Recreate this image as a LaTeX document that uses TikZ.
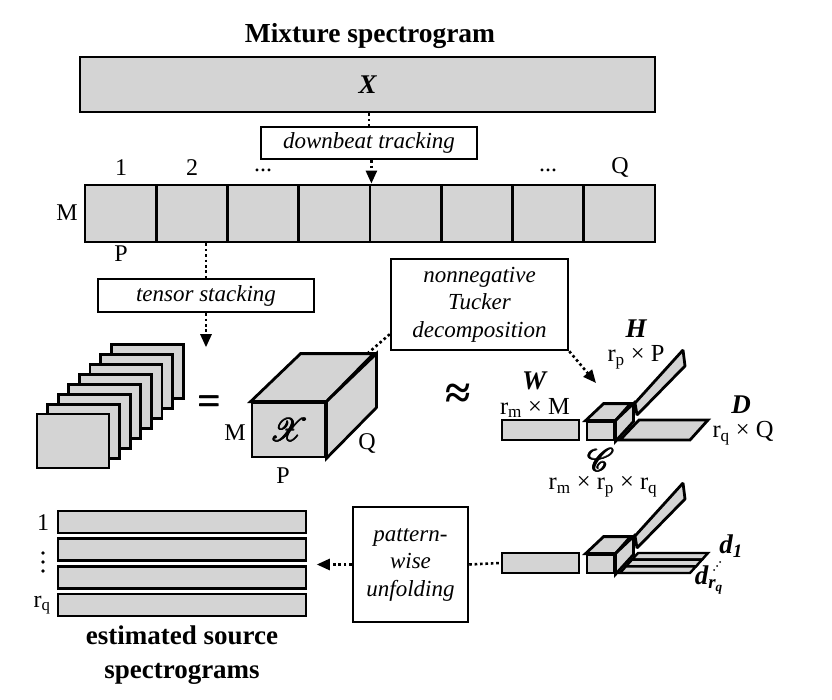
\documentclass[tikz,border=0pt]{standalone}
\usepackage{fontspec}
\setmainfont{Liberation Serif}
\usepackage{mathrsfs}
\usetikzlibrary{arrows.meta,calc}
\definecolor{boxgray}{HTML}{D4D4D4}
\begin{document}
\begin{tikzpicture}[x=1pt,y=-1pt,
  gbox/.style={draw,line width=2.8pt,fill=boxgray,inner sep=0pt},
  wbox/.style={draw,line width=2.5pt,fill=white,inner sep=2pt,align=center,font=\itshape\fontsize{23}{27.5}\selectfont},
  dotline/.style={line width=2.6pt,dash pattern=on 2.6pt off 2.8pt},
  darrow/.style={dotline,-{Triangle[length=13pt,width=11pt]}},
  lab/.style={font=\fontsize{24}{26}\selectfont,inner sep=0pt},
  dimlab/.style={font=\fontsize{24.5}{26}\selectfont,inner sep=0pt},
  bi/.style={font=\bfseries\itshape\fontsize{27}{28}\selectfont,inner sep=0pt}]
\useasboundingbox (0,0) rectangle (832,700);

% title and mixture spectrogram
\node[font=\bfseries\fontsize{27.5}{30}\selectfont] (title) at (370,36) {Mixture spectrogram};
\node[gbox,minimum width=575pt,minimum height=55pt] (top) at (367.5,84.5) {};
\node[bi] (Xl) at (top.center) {X};
\node[wbox,minimum width=216pt,minimum height=32pt] (db) at (369,143) {downbeat tracking};
\draw[dotline] (db.north |- top.south) -- (db.north);

% segmented row
\foreach \i in {1,...,8}
  \node[gbox,minimum width=71.25pt,minimum height=57pt] (c\i) at ({85+71.25*(\i-0.5)},213.5) {};
\draw[darrow] (db.south -| c4.north east) -- (c4.north east);
\node[lab] (n1) at (121,168) {1};
\node[lab] (n2) at (192,168) {2};
\node[lab] (n3) at (263,170) {...};
\node[lab] (n4) at (548,170) {...};
\node[lab] (nQ) at (620,168) {Q};
\node[lab] (nM) at (67,213) {M};
\node[lab] (nP) at (121,254) {P};

% tensor stacking
\node[wbox,minimum width=216pt,minimum height=33pt] (ts) at (206,295.5) {tensor stacking};
\draw[dotline] (ts.north |- c2.south) -- (ts.north);
\coordinate (tsend) at ($(ts.south)+(0,34)$);
\draw[darrow] (ts.south) -- (tsend);

% stack of slices
\foreach \i in {7,6,...,0}
  \node[gbox,minimum width=72pt,minimum height=54pt] (s\i) at ({73+10.6*\i},{441-9.9*\i}) {};
\foreach \ox in {0,0.7}
  \node[font=\bfseries\fontsize{40}{40}\selectfont] at ({209+\ox},405) {=};

% cube
\node[gbox,minimum width=73pt,minimum height=54pt] (cube) at (288.5,430) {};
\draw[gbox] (cube.north west) -- ++(50,-48) -- ++(73,0) -- (cube.north east) -- cycle;
\draw[gbox] (cube.north east) -- ++(50,-48) -- ++(0,54) -- (cube.south east) -- cycle;
\foreach \ox/\oy in {0/0,0.5/0,1/0,0.5/0.5,0.5/-0.5}
  \node[scale=3.2] at ($(cube.center)+(\ox,\oy)$) {$\mathscr{X}$};
\node[lab] (cM) at (235,433) {M};
\node[lab] (cP) at (283,476) {P};
\node[lab] (cQ) at (367,443) {Q};
\coordinate (cubetr) at ($(cube.north east)+(50,-48)$);

% Tucker
\node[wbox,minimum width=177pt,minimum height=91pt] (tk) at (479.5,304.5) {nonnegative\\Tucker\\decomposition};
\draw[dotline] ($(cubetr)+(-9,0)$) -- ($(tk.south west)+(0,-17)$);
\coordinate (coreend) at (596,383);
\draw[darrow] (tk.south east) -- (coreend);
\node[font=\bfseries\fontsize{46}{46}\selectfont] (approx) at (458,396) {≈};

% decomposition groups
\foreach \dy/\k in {0/a,133/b} {
  \node[gbox,minimum width=77pt,minimum height=20pt] (W\k) at (540.5,{430+\dy}) {};
  \node[gbox,minimum width=27pt,minimum height=18pt] (C\k) at (600.5,{431+\dy}) {};
  \draw[gbox] (C\k.north west) -- ++(18,-17) -- ++(27,0) -- (C\k.north east) -- cycle;
  \draw[gbox] (C\k.north east) -- ++(18,-17) -- ++(0,18) -- (C\k.south east) -- cycle;
  \draw[gbox,line join=bevel] (635,{403+\dy}) -- (683,{350+\dy}) -- (685,{366+\dy}) -- (637,{415+\dy}) -- cycle;
}
\draw[gbox] (620,440) -- (639,420) -- (708,420) -- (690,440) -- cycle;
\foreach \j in {0,1,2} {
  \pgfmathsetmacro{\ta}{553+6.67*\j}
  \pgfmathsetmacro{\tb}{\ta+6.67}
  \draw[gbox,line width=2.4pt] ({620+(573-\ta)*0.9},\ta) -- ({690+(573-\ta)*0.9},\ta)
     -- ({690+(573-\tb)*0.9},\tb) -- ({620+(573-\tb)*0.9},\tb) -- cycle;
}

% labels of top group
\node[bi] (Wl) at (534,381) {W};
\node[dimlab] (Wd) at (535,408) {r\textsubscript{m} × M};
\node[bi] (Hl) at (636,329) {H};
\node[dimlab] (Hd) at (636,357) {r\textsubscript{p} × P};
\node[bi] (Dl) at (741,405) {D};
\node[dimlab] (Dd) at (743,433) {r\textsubscript{q} × Q};
\foreach \ox/\oy in {0/0,0.6/0,1.2/0,0.6/0.6,0.6/-0.6}
  \node[scale=3.2] at ({600+\ox},{460+\oy}) {$\mathscr{C}$};
\node[dimlab] (Cd) at (603,487) {r\textsubscript{m} × r\textsubscript{p} × r\textsubscript{q}};

% labels of bottom group
\node[bi] (d1) at (731,546) {d\textsubscript{1}};
\node[bi] (drq) at (709,580) {d\textsubscript{r\textsubscript{q}}};
\foreach \t in {0,1,2}
  \fill ({714+3*\t},{570-4*\t}) circle (1pt);

% pattern-wise unfolding
\node[wbox,minimum width=115pt,minimum height=115pt] (pw) at (410.5,564.5) {pattern-\\wise\\unfolding};
\draw[dotline] (pw.east) -- (Wb.west);
\coordinate (sa) at ($(pw.west)+(-35,0)$);
\draw[darrow] (pw.west) -- (sa);

% estimated sources
\foreach \i/\y in {1/522,2/549.5,3/577.5,4/605}
  \node[gbox,minimum width=248pt,minimum height=22pt] (e\i) at (182,\y) {};
\node[lab] (e1l) at (43,523) {1};
\foreach \y in {553,562,571}
  \fill (43,\y) circle (1.8pt);
\node[lab] (e4l) at (42,605) {r\textsubscript{q}};
\node[font=\bfseries\fontsize{27}{34}\selectfont,align=center] (cap) at (182,655) {estimated source\\spectrograms};
\end{tikzpicture}
\end{document}
